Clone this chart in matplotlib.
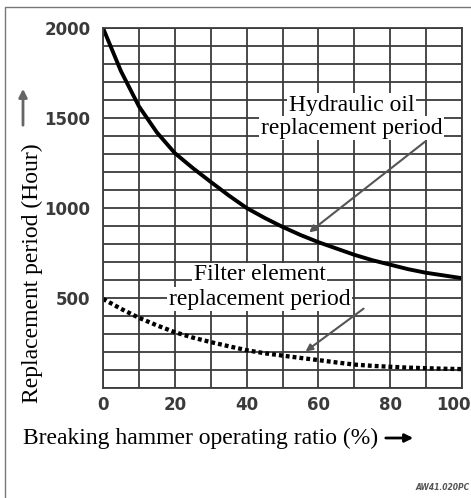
import matplotlib.pyplot as plt
from matplotlib.patches import FancyArrowPatch
from matplotlib.lines import Line2D
from matplotlib.transforms import ScaledTranslation

# operating ratio (%) and replacement period (hours)
ratio = [0, 5, 10, 15, 20, 25, 30, 35, 40, 45, 50, 55, 60, 65, 70, 75, 80, 85, 90, 95, 100]
hydraulic_oil = [2000, 1760, 1565, 1420, 1305, 1222, 1145, 1070, 1000, 945, 895, 850,
                 810, 775, 740, 710, 685, 660, 640, 625, 610]
filter_element = [495, 440, 390, 348, 310, 280, 255, 232, 210, 193, 180, 167,
                  155, 142, 130, 123, 118, 113, 110, 107, 105]

x_ticks = [0, 20, 40, 60, 80, 100]
y_ticks = [500, 1000, 1500, 2000]

serif = ["Liberation Serif", "DejaVu Serif"]
grid_color = "#3c3c3c"

fig = plt.figure(figsize=(4.71, 4.98), dpi=100)
ax = fig.add_axes([0.2187, 0.2209, 0.7623, 0.7229])

ax.set_xlim(0, 100)
ax.set_ylim(0, 2000)
ax.set_xticks(x_ticks)
ax.set_xticks(range(0, 101, 10), minor=True)
ax.set_yticks(y_ticks)
ax.set_yticks(range(0, 2001, 100), minor=True)
ax.grid(which="both", color=grid_color, linewidth=1.3)
ax.set_axisbelow(True)
ax.tick_params(which="both", length=0)
ax.tick_params(axis="y", pad=9)
ax.tick_params(axis="x", pad=6)
for lbl in ax.get_xticklabels() + ax.get_yticklabels():
    lbl.set_fontweight("bold")
    lbl.set_fontsize(12)
    lbl.set_color("#3a3a3a")
# last x label sits against the page edge; nudge it in a little
last = ax.get_xticklabels()[-1]
last.set_transform(last.get_transform() + ScaledTranslation(-9 / 100, 0, fig.dpi_scale_trans))
for sp in ax.spines.values():
    sp.set_color(grid_color)
    sp.set_linewidth(1.3)

ax.plot(ratio, hydraulic_oil, color="black", linewidth=2.8, solid_capstyle="butt")
ax.plot(ratio, filter_element, color="black", linewidth=3.1,
        linestyle=(0, (0.9, 0.7)), dash_capstyle="butt")

# annotations with white boxes behind each line of text
box = dict(facecolor="white", edgecolor="none", pad=1)
ax.text(69.2, 1572, "Hydraulic oil", family=serif, fontsize=17, ha="center", va="center", bbox=box)
ax.text(69.2, 1444, "replacement period", family=serif, fontsize=17, ha="center", va="center", bbox=box)
ax.text(43.6, 628, "Filter element", family=serif, fontsize=17, ha="center", va="center", bbox=box)
ax.text(43.6, 494, "replacement period", family=serif, fontsize=17, ha="center", va="center", bbox=box)

ax.annotate("", xy=(56.8, 855), xytext=(90.3, 1378),
            arrowprops=dict(arrowstyle="-|>", color="#555555", lw=1.5, mutation_scale=10))
ax.annotate("", xy=(55.8, 194), xytext=(73.2, 450),
            arrowprops=dict(arrowstyle="-|>", color="#555555", lw=1.5, mutation_scale=10))

# axis labels as free text, as on the original sheet
fig.text(32 / 471, 1 - 273 / 498, "Replacement period (Hour)", family=serif, fontsize=17,
         rotation=90, ha="center", va="center")
fig.text(23 / 471, 1 - 438 / 498, "Breaking hammer operating ratio (%)", family=serif,
         fontsize=17, ha="left", va="center")

fig.patches.append(FancyArrowPatch((23 / 471, 1 - 128 / 498), (23 / 471, 1 - 86 / 498),
                                   transform=fig.transFigure, arrowstyle="-|>",
                                   color="#666666", lw=2, mutation_scale=12))
fig.patches.append(FancyArrowPatch((383 / 471, 1 - 438 / 498), (416 / 471, 1 - 438 / 498),
                                   transform=fig.transFigure, arrowstyle="-|>",
                                   color="black", lw=2, mutation_scale=12))

# page frame (left and top edges)
fig.lines.append(Line2D([5 / 471, 5 / 471, 1.0], [0, 1 - 7 / 498, 1 - 7 / 498],
                        transform=fig.transFigure, color="#777777", linewidth=1))

fig.text(0.998, 0.012, "AW41.020PC", fontsize=5.5, style="italic", fontweight="bold",
         color="#555555", ha="right", va="bottom")

fig.savefig("out.png", dpi=100)
